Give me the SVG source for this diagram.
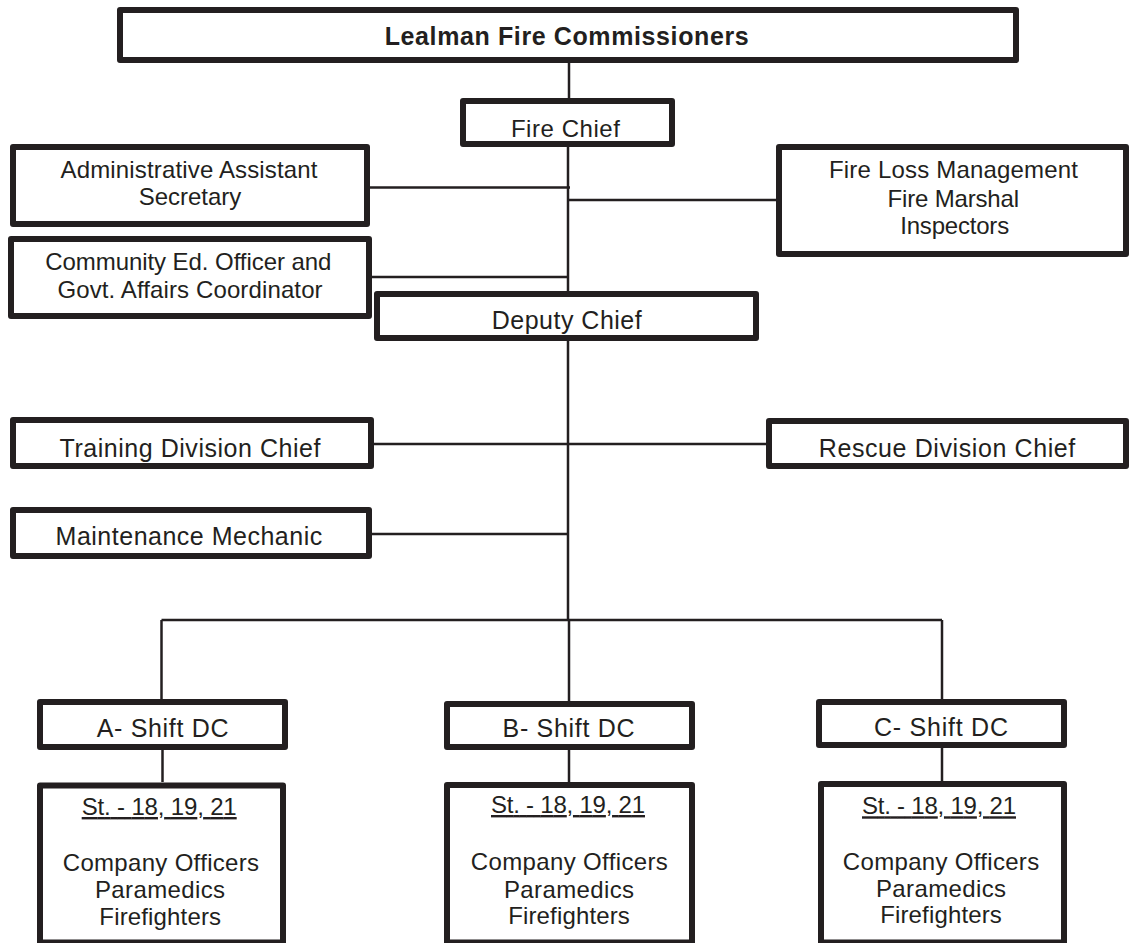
<svg xmlns="http://www.w3.org/2000/svg" width="1129" height="943" viewBox="0 0 1129 943">
<style>
.box{fill:#fff;stroke:#231f20;stroke-width:6;stroke-linejoin:round}
.conn{fill:none;stroke:#231f20;stroke-width:2.5}
text{font-family:"Liberation Sans",Arial,sans-serif;font-size:24px;fill:#231f20;text-anchor:middle}
.b{font-weight:bold;font-size:25px}
.l{font-size:25px}
.u{text-decoration:underline}
</style>
<rect width="1129" height="943" fill="#fff"/>
<g id="connectors">
<path class="conn" d="M569,63V98"/>
<path class="conn" d="M568,147V291"/>
<path class="conn" d="M370,187.5H570"/>
<path class="conn" d="M568,200H776"/>
<path class="conn" d="M372,277H569"/>
<path class="conn" d="M568,341V620"/>
<path class="conn" d="M374,444H766"/>
<path class="conn" d="M372,534H569"/>
<path class="conn" d="M161.5,620H942"/>
<path class="conn" d="M161.5,620V699"/>
<path class="conn" d="M569,620V701"/>
<path class="conn" d="M942,620V699"/>
<path class="conn" d="M162.5,750V782"/>
<path class="conn" d="M569,750V782"/>
<path class="conn" d="M942,748V781"/>
</g>
<g id="commissioners">
<rect class="box" x="120" y="10" width="896" height="50"/>
<text class="b" x="566.7" y="45" textLength="364">Lealman Fire Commissioners</text>
</g>
<g id="fire-chief">
<rect class="box" x="463" y="101" width="209" height="43"/>
<text x="565.4" y="136.7" textLength="109">Fire Chief</text>
</g>
<g id="admin">
<rect class="box" x="13" y="147" width="354" height="77"/>
<text x="189" y="178.3" textLength="257">Administrative Assistant</text>
<text x="190" y="205" textLength="102.6">Secretary</text>
</g>
<g id="fire-loss">
<rect class="box" x="779" y="147" width="347" height="107"/>
<text x="953.5" y="178.3" textLength="249">Fire Loss Management</text>
<text x="953.3" y="206.7" textLength="131.4">Fire Marshal</text>
<text x="954.7" y="234.3" textLength="108.9">Inspectors</text>
</g>
<g id="community">
<rect class="box" x="11" y="239" width="358" height="77"/>
<text x="188.3" y="270" textLength="286.2">Community Ed. Officer and</text>
<text x="190" y="297.7" textLength="265.2">Govt. Affairs Coordinator</text>
</g>
<g id="deputy-chief">
<rect class="box" x="377" y="294" width="379" height="44"/>
<text class="l" x="566.7" y="329" textLength="150">Deputy Chief</text>
</g>
<g id="training">
<rect class="box" x="13" y="420" width="358" height="46"/>
<text class="l" x="190" y="456.7" textLength="261">Training Division Chief</text>
</g>
<g id="rescue">
<rect class="box" x="769" y="421" width="357" height="45"/>
<text class="l" x="947" y="456.7" textLength="256.5">Rescue Division Chief</text>
</g>
<g id="maintenance">
<rect class="box" x="13" y="510" width="356" height="46"/>
<text class="l" x="188.9" y="545" textLength="266.7">Maintenance Mechanic</text>
</g>
<g id="a-shift">
<rect class="box" x="40" y="702" width="245" height="45"/>
<text class="l" x="162.6" y="737.3" textLength="131.7">A- Shift DC</text>
</g>
<g id="b-shift">
<rect class="box" x="447" y="704" width="245" height="43"/>
<text class="l" x="568.5" y="737.3" textLength="131.9">B- Shift DC</text>
</g>
<g id="c-shift">
<rect class="box" x="819" y="702" width="245" height="43"/>
<text class="l" x="941" y="735.7" textLength="133.9">C- Shift DC</text>
</g>
<g id="a-crew">
<rect class="box" x="40" y="785.5" width="243" height="157"/>
<text class="u" x="159.2" y="815" textLength="155">St. - 18, 19, 21</text>
<text x="160.9" y="871" textLength="196.3">Company Officers</text>
<text x="160" y="898" textLength="130">Paramedics</text>
<text x="160.2" y="925" textLength="121.7">Firefighters</text>
</g>
<g id="b-crew">
<rect class="box" x="447" y="785" width="245" height="157.5"/>
<text class="u" x="568" y="813" textLength="154">St. - 18, 19, 21</text>
<text x="569.3" y="870" textLength="197">Company Officers</text>
<text x="569" y="897.7" textLength="130">Paramedics</text>
<text x="569" y="923.5" textLength="121.7">Firefighters</text>
</g>
<g id="c-crew">
<rect class="box" x="821" y="784" width="243" height="158.5"/>
<text class="u" x="939" y="814.3" textLength="154">St. - 18, 19, 21</text>
<text x="941" y="870" textLength="196.3">Company Officers</text>
<text x="941" y="897.3" textLength="130">Paramedics</text>
<text x="941" y="923.3" textLength="121.7">Firefighters</text>
</g>
</svg>
